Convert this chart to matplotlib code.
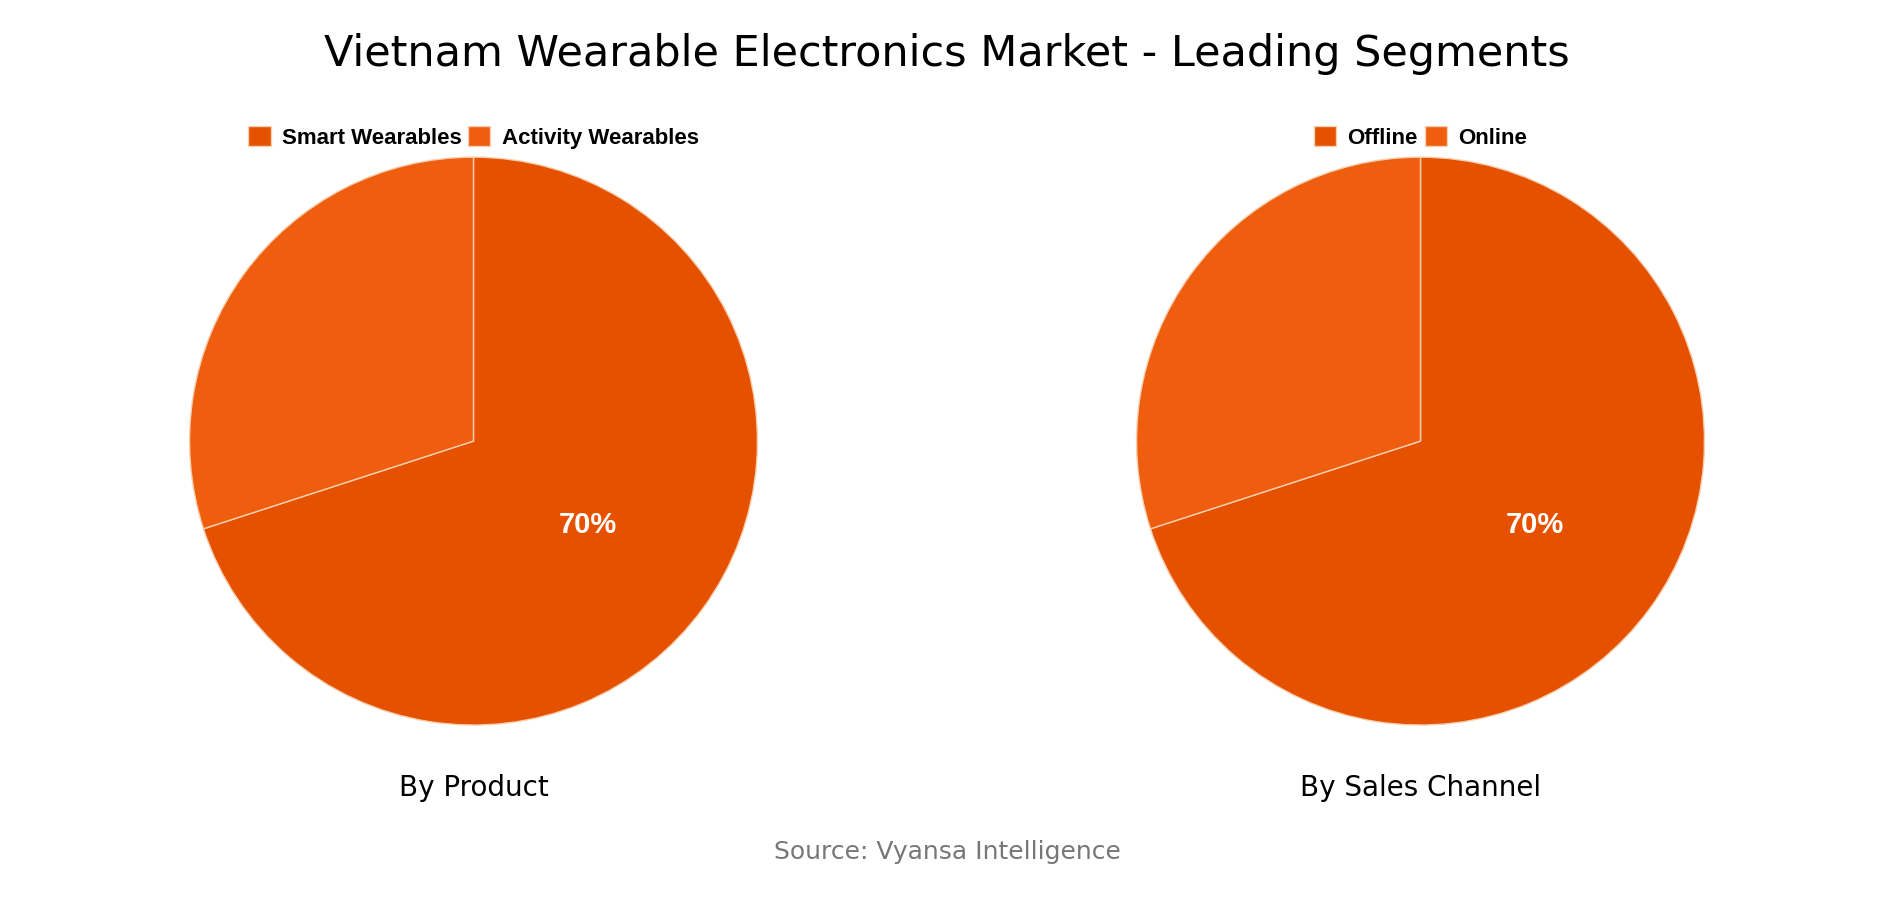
import matplotlib
matplotlib.use("Agg")
import matplotlib.pyplot as plt
import math

title = "Vietnam Wearable Electronics Market - Leading Segments"
product_labels = ["Smart Wearables", "Activity Wearables"]
product_values = [70, 30]
channel_labels = ["Offline", "Online"]
channel_values = [70, 30]
colors = ["#E65100", "#EE5E0E"]

fig = plt.figure(figsize=(18.94, 9), dpi=100)
fig.text(0.5, 0.94, title, ha="center", va="center", fontsize=31, family="DejaVu Sans")

def draw(cx, labels, values, sub):
    ax = fig.add_axes([cx - 0.15, 0.51 - 0.3156, 0.30, 0.631])
    wedges, _ = ax.pie(values, colors=colors, startangle=90, counterclock=False,
                       wedgeprops=dict(edgecolor="#f5d0b0", linewidth=1))
    ax.set_xlim(-1.0, 1.0)
    ax.set_ylim(-1.0, 1.0)
    c = sum(values)
    ang = math.radians(90 - 360 * values[0] / c / 2)
    ax.text(0.5 * math.cos(ang), 0.5 * math.sin(ang), f"{values[0]}%", ha="center", va="center",
            color="white", fontsize=21, fontweight="bold", family="Liberation Sans")
    ax.set_aspect("equal")
    fig.legend(wedges, labels, loc="center", bbox_to_anchor=(cx, 0.847), ncol=2, frameon=False,
               prop=dict(family="Liberation Sans", weight="bold", size=16),
               handlelength=1.0, handleheight=1.0, columnspacing=0.3, handletextpad=0.5)
    fig.text(cx, 0.124, sub, ha="center", va="center", fontsize=20, family="DejaVu Sans")

draw(0.25, product_labels, product_values, "By Product")
draw(0.75, channel_labels, channel_values, "By Sales Channel")
fig.text(0.5, 0.053, "Source: Vyansa Intelligence", ha="center", va="center", fontsize=18,
         color="#777777", family="DejaVu Sans")
fig.savefig("out.png", dpi=100, facecolor="white")
